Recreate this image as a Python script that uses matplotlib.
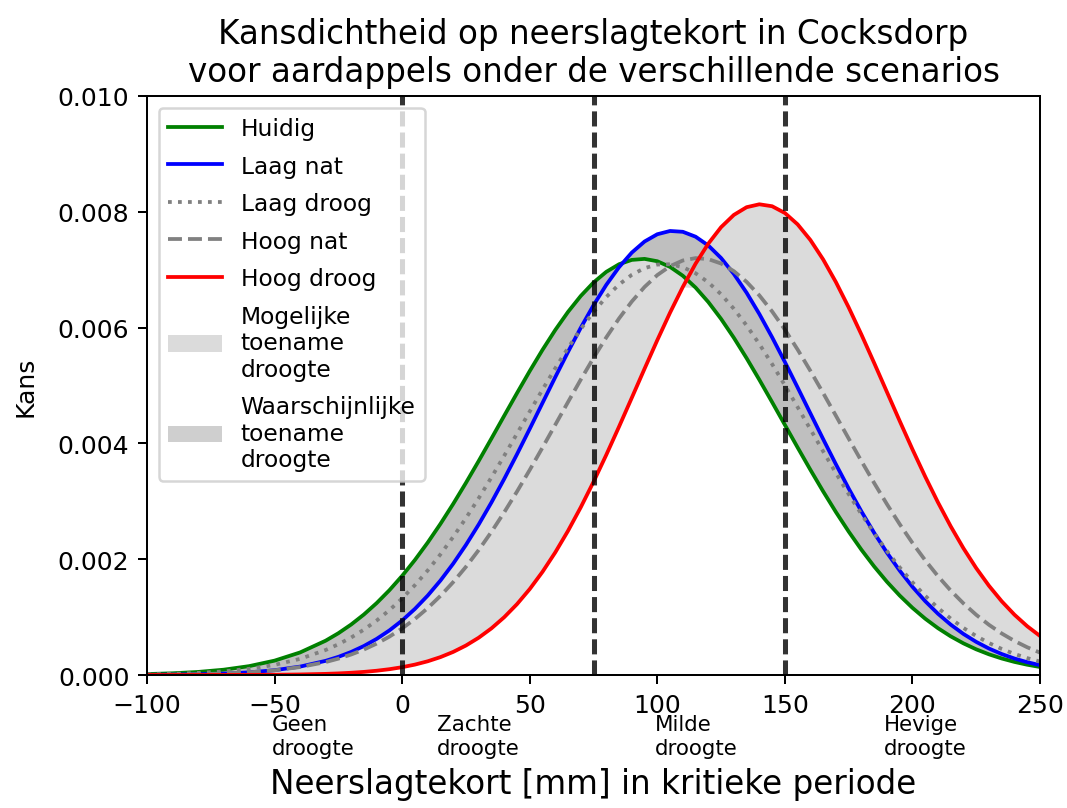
import numpy as np
import matplotlib
matplotlib.use('Agg')
import matplotlib.pyplot as plt
from matplotlib.lines import Line2D
from matplotlib.patches import Patch

# neerslagtekort [mm]; fijner waar de krommen sterk buigen
tekort = [-100, -90, -80, -70, -60, -50, -40, -30,
          -25, -20, -15, -10, -5, 0,
          5, 10, 15, 20, 25, 30, 35, 40, 45, 50, 55, 60, 65, 70, 75, 80, 85, 90, 95,
          100, 105, 110, 115, 120, 125, 130, 135, 140, 145, 150, 155, 160, 165, 170,
          175, 180, 185, 190, 195, 200, 205, 210, 215, 220, 225,
          230, 235, 240, 245, 250]

# kansdichtheid per scenario (x 1e-3 per mm)
huidig = [0.0160, 0.0295, 0.0528, 0.0913, 0.1530, 0.2482, 0.3897, 0.5924,
          0.7216, 0.8718, 1.0448, 1.2420, 1.4644, 1.7128,
          1.9870, 2.2865, 2.6100, 2.9551, 3.3187, 3.6970, 4.0852, 4.4777, 4.8679, 5.2496,
          5.6154, 5.9582, 6.2707, 6.5464, 6.7789, 6.9629, 7.0941, 7.1694, 7.1868,
          7.1461, 7.0482, 6.8954, 6.6914, 6.4410, 6.1498, 5.8243, 5.4714, 5.0985, 4.7124,
          4.3205, 3.9291, 3.5443, 3.1713, 2.8146, 2.4779, 2.1637, 1.8742, 1.6103, 1.3724,
          1.1601, 0.9728, 0.8091, 0.6675, 0.5463, 0.4434,
          0.3570, 0.2852, 0.2259, 0.1775, 0.1384]
laag_nat = [0.0029, 0.0061, 0.0124, 0.0242, 0.0456, 0.0828, 0.1450, 0.2447,
            0.3135, 0.3980, 0.5005, 0.6237, 0.7701, 0.9420,
            1.1418, 1.3711, 1.6314, 1.9232, 2.2465, 2.5999, 2.9810, 3.3867, 3.8122, 4.2516,
            4.6981, 5.1436, 5.5796, 5.9968, 6.3860, 6.7378, 7.0435, 7.2953, 7.4867,
            7.6123, 7.6688, 7.6547, 7.5702, 7.4178, 7.2015, 6.9272, 6.6021, 6.2343, 5.8328,
            5.4069, 4.9660, 4.5191, 4.0746, 3.6399, 3.2218, 2.8254, 2.4550, 2.1135, 1.8027,
            1.5236, 1.2757, 1.0584, 0.8700, 0.7086, 0.5718,
            0.4572, 0.3621, 0.2842, 0.2210, 0.1703]
laag_droog = [0.0104, 0.0195, 0.0354, 0.0622, 0.1058, 0.1745, 0.2788, 0.4316,
              0.5306, 0.6472, 0.7832, 0.9404, 1.1201, 1.3237,
              1.5520, 1.8053, 2.0834, 2.3853, 2.7096, 3.0536, 3.4141, 3.7871, 4.1678, 4.5505,
              4.9292, 5.2974, 5.6481, 5.9746, 6.2703, 6.5285, 6.7439, 6.9114, 7.0272,
              7.0887, 7.0943, 7.0440, 6.9388, 6.7813, 6.5752, 6.3250, 6.0364, 5.7156, 5.3692,
              5.0039, 4.6268, 4.2443, 3.8628, 3.4879, 3.1245, 2.7769, 2.4485, 2.1419, 1.8590,
              1.6007, 1.3674, 1.1589, 0.9745, 0.8129, 0.6728,
              0.5525, 0.4500, 0.3637, 0.2917, 0.2320]
hoog_nat = [0.0036, 0.0072, 0.0138, 0.0257, 0.0463, 0.0809, 0.1367, 0.2235,
            0.2824, 0.3538, 0.4398, 0.5422, 0.6630, 0.8042,
            0.9676, 1.1546, 1.3667, 1.6046, 1.8686, 2.1584, 2.4729, 2.8103, 3.1677, 3.5417,
            3.9277, 4.3205, 4.7139, 5.1015, 5.4762, 5.8306, 6.1576, 6.4502, 6.7020,
            6.9071, 7.0606, 7.1591, 7.2000, 7.1825, 7.1068, 6.9749, 6.7899, 6.5562, 6.2791,
            5.9651, 5.6207, 5.2533, 4.8700, 4.4781, 4.0843, 3.6949, 3.3156, 2.9510, 2.6053,
            2.2813, 1.9815, 1.7071, 1.4587, 1.2364, 1.0394,
            0.8668, 0.7170, 0.5882, 0.4787, 0.3864]
hoog_droog = [0.0000, 0.0001, 0.0003, 0.0008, 0.0019, 0.0043, 0.0094, 0.0194,
              0.0275, 0.0386, 0.0536, 0.0737, 0.1002, 0.1349,
              0.1796, 0.2367, 0.3088, 0.3987, 0.5094, 0.6441, 0.8060, 0.9983, 1.2235, 1.4842,
              1.7817, 2.1169, 2.4890, 2.8964, 3.3357, 3.8020, 4.2886, 4.7875, 5.2893,
              5.7833, 6.2582, 6.7019, 7.1032, 7.4507, 7.7345, 7.9461, 8.0792, 8.1297, 8.0960,
              7.9792, 7.7828, 7.5128, 7.1774, 6.7860, 6.3497, 5.8801, 5.3891, 4.8880, 4.3877,
              3.8979, 3.4270, 2.9819, 2.5678, 2.1884, 1.8457,
              1.5407, 1.2727, 1.0406, 0.8419, 0.6742]

grenzen = [0, 75, 150]
klassen = ['Geen\ndroogte', 'Zachte\ndroogte', 'Milde\ndroogte', 'Hevige\ndroogte']
klasse_x = [-51, 13.5, 99, 189]

x = np.array(tekort)
y_h = np.array(huidig) * 1e-3
y_ln = np.array(laag_nat) * 1e-3
y_ld = np.array(laag_droog) * 1e-3
y_hn = np.array(hoog_nat) * 1e-3
y_hd = np.array(hoog_droog) * 1e-3

alle = np.vstack([y_h, y_ln, y_ld, y_hn, y_hd])

fig = plt.figure(figsize=(1067 / 181, 809 / 181), dpi=181)
ax = fig.add_axes([0.1378, 0.1644, 0.8369, 0.7157])

# band tussen alle scenario's en de band huidig - laag nat
ax.fill_between(x, alle.min(axis=0), alle.max(axis=0), color='lightgray', alpha=0.8, lw=0)
ax.fill_between(x, y_h, y_ln, color='darkgray', alpha=0.55, lw=0)

ax.plot(x, y_h, color='green', lw=1.5)
ax.plot(x, y_ln, color='blue', lw=1.5)
ax.plot(x, y_ld, color='gray', ls=':', lw=1.5)
ax.plot(x, y_hn, color='gray', ls='--', lw=1.5)
ax.plot(x, y_hd, color='red', lw=1.5)

for g in grenzen:
    ax.axvline(g, color='k', alpha=0.8, lw=2, ls=(0, (3, 1.2)))

for tx, lab in zip(klasse_x, klassen):
    ax.text(tx, -0.068, lab, transform=ax.get_xaxis_transform(), ha='left', va='top',
            fontsize=8.5, clip_on=False)

ax.set_xlim(-100, 250)
ax.set_ylim(0, 0.010)
ax.set_yticks([0, 0.002, 0.004, 0.006, 0.008, 0.010])

ax.set_title('Kansdichtheid op neerslagtekort in Cocksdorp\n'
             'voor aardappels onder de verschillende scenarios', fontsize=13)
ax.set_xlabel('Neerslagtekort [mm] in kritieke periode', fontsize=13, labelpad=20)
ax.set_ylabel('Kans', labelpad=8)

handles = [
    Line2D([], [], color='green', lw=1.5),
    Line2D([], [], color='blue', lw=1.5),
    Line2D([], [], color='gray', ls=':', lw=1.5),
    Line2D([], [], color='gray', ls='--', lw=1.5),
    Line2D([], [], color='red', lw=1.5),
    Patch(facecolor='lightgray', alpha=0.8),
    Patch(facecolor='darkgray', alpha=0.55),
]
labels = ['Huidig', 'Laag nat', 'Laag droog', 'Hoog nat', 'Hoog droog',
          'Mogelijke\ntoename\ndroogte', 'Waarschijnlijke\ntoename\ndroogte']
ax.legend(handles, labels, loc='upper left', fontsize=9.3, handlelength=2.3,
          labelspacing=0.62)

fig.savefig('out.png', dpi=181)
